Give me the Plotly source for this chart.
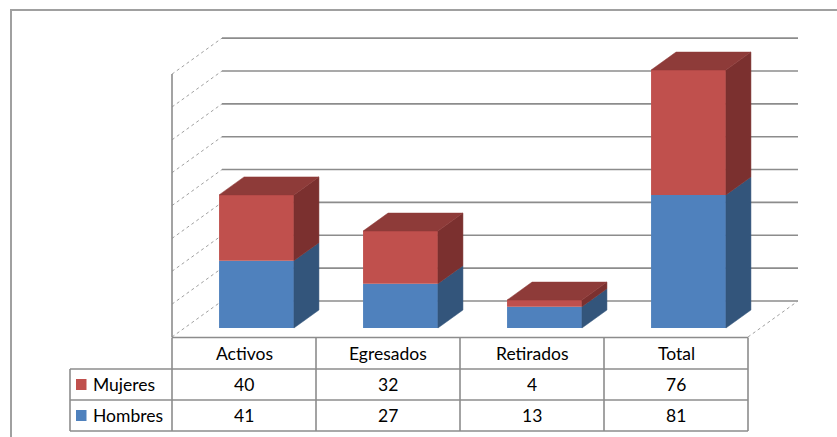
import plotly.graph_objects as go

# ---- data ----
categories = ["Activos", "Egresados", "Retirados", "Total"]
mujeres = [40, 32, 4, 76]
hombres = [41, 27, 13, 81]
series_names = ["Mujeres", "Hombres"]
grid_values = list(range(0, 161, 20))

# ---- styling / geometry ----
W, H = 837, 437
X0_PX = 172          # pixel of category axis start
CAT_PX = 144         # pixels per category
FLOOR_PX = 337       # pixel of front floor edge
S = 1.643            # pixels per value unit
DXc = 50 / CAT_PX    # floor depth in x units
DYv = 36 / S         # floor depth in value units
BAR_W = 0.52
D_FRONT, D_BACK = 0.25, 0.75

RED, RED_TOP, RED_SIDE = "#C0504D", "#8E3B39", "#7B302F"
BLUE, BLUE_SIDE = "#4F81BD", "#33557B"
GRID = "#8c8c8c"
FONT = "Lato"

def px(x):   # pixel -> paper
    return x / W

def py(y):
    return 1 - y / H

fig = go.Figure()

n = len(categories)
xc = [i + 0.5 + D_FRONT * DXc for i in range(n)]
base0 = D_FRONT * DYv

# front faces as bars
fig.add_trace(go.Bar(x=xc, y=hombres, base=[base0] * n, width=BAR_W,
                     marker=dict(color=BLUE, line=dict(width=0)), name=series_names[1],
                     hoverinfo="skip"))
fig.add_trace(go.Bar(x=xc, y=mujeres, base=[base0 + h for h in hombres], width=BAR_W,
                     marker=dict(color=RED, line=dict(width=0)), name=series_names[0],
                     hoverinfo="skip"))

# side and top faces
ddx = (D_BACK - D_FRONT) * DXc
ddy = (D_BACK - D_FRONT) * DYv

def poly(xs, ys, color):
    fig.add_trace(go.Scatter(x=xs + [xs[0]], y=ys + [ys[0]], mode="lines", fill="toself",
                             fillcolor=color, line=dict(color=color, width=0.5),
                             hoverinfo="skip", showlegend=False))

for i in range(n):
    xl = xc[i] - BAR_W / 2
    xr = xc[i] + BAR_W / 2
    b = base0
    h_top = b + hombres[i]
    t = h_top + mujeres[i]
    # hombres side
    poly([xr, xr, xr + ddx, xr + ddx], [b, h_top, h_top + ddy, b + ddy], BLUE_SIDE)
    # mujeres side
    poly([xr, xr, xr + ddx, xr + ddx], [h_top, t, t + ddy, h_top + ddy], RED_SIDE)
    # top
    poly([xl, xr, xr + ddx, xl + ddx], [t, t, t + ddy, t + ddy], RED_TOP)

shapes = []
# back wall gridlines
for v in grid_values:
    shapes.append(dict(type="line", xref="x", yref="y", x0=DXc, x1=n + DXc,
                       y0=v + DYv, y1=v + DYv, line=dict(color=GRID, width=1.6), layer="below"))
    shapes.append(dict(type="line", xref="x", yref="y", x0=0, x1=DXc,
                       y0=v, y1=v + DYv, line=dict(color="#a0a0a0", width=1, dash="dot"),
                       layer="below"))
# left wall front edge
shapes.append(dict(type="line", xref="x", yref="y", x0=0, x1=0, y0=0, y1=grid_values[-1],
                   line=dict(color=GRID, width=1.6), layer="below"))
# floor right edge
shapes.append(dict(type="line", xref="x", yref="y", x0=n, x1=n + DXc, y0=0, y1=DYv,
                   line=dict(color="#a0a0a0", width=1, dash="dot"), layer="below"))

# outer border
shapes.append(dict(type="rect", xref="paper", yref="paper", x0=px(11), x1=px(W + 10),
                   y0=py(H + 10), y1=py(10), line=dict(color="#a0a0a0", width=2)))

# ---- data table ----
TL = GRID
row_y = [337.5, 369, 400, 431]
col_x = [X0_PX + CAT_PX * i for i in range(n + 1)]
left_x = 70
shapes.append(dict(type="line", xref="paper", yref="paper", x0=px(col_x[0]), x1=px(col_x[-1]),
                   y0=py(row_y[0]), y1=py(row_y[0]), line=dict(color=TL, width=1.6)))
for ry in row_y[1:]:
    shapes.append(dict(type="line", xref="paper", yref="paper", x0=px(left_x), x1=px(col_x[-1]),
                       y0=py(ry), y1=py(ry), line=dict(color=TL, width=1.6)))
for cx in col_x:
    shapes.append(dict(type="line", xref="paper", yref="paper", x0=px(cx), x1=px(cx),
                       y0=py(row_y[0]), y1=py(row_y[-1]), line=dict(color=TL, width=1.6)))
shapes.append(dict(type="line", xref="paper", yref="paper", x0=px(left_x), x1=px(left_x),
                   y0=py(row_y[1]), y1=py(row_y[-1]), line=dict(color=TL, width=1.6)))

annotations = []
def txt(x, y, s, anchor="center"):
    annotations.append(dict(x=px(x), y=py(y), xref="paper", yref="paper", text=s,
                            showarrow=False, xanchor=anchor, yanchor="middle",
                            font=dict(family=FONT, size=17.5, color="#000000")))

for i, c in enumerate(categories):
    cx = (col_x[i] + col_x[i + 1]) / 2
    txt(cx, (row_y[0] + row_y[1]) / 2, c)
    txt(cx, (row_y[1] + row_y[2]) / 2, str(mujeres[i]))
    txt(cx, (row_y[2] + row_y[3]) / 2, str(hombres[i]))

row_series = [(series_names[0], RED), (series_names[1], BLUE)]
for k, (name, col) in enumerate(row_series):
    yc = (row_y[k + 1] + row_y[k + 2]) / 2
    shapes.append(dict(type="rect", xref="paper", yref="paper", x0=px(76), x1=px(86.5),
                       y0=py(yc + 5.5), y1=py(yc - 5.5), fillcolor=col, line=dict(width=0)))
    txt(91, yc, name, anchor="left")

fig.update_layout(
    width=W, height=H,
    margin=dict(l=0, r=0, t=0, b=0),
    paper_bgcolor="white", plot_bgcolor="white",
    barmode="overlay", showlegend=False,
    xaxis=dict(range=[-X0_PX / CAT_PX, (W - X0_PX) / CAT_PX], visible=False, fixedrange=True),
    yaxis=dict(range=[-(H - FLOOR_PX) / S, FLOOR_PX / S], visible=False, fixedrange=True),
    shapes=shapes, annotations=annotations,
)

fig.write_html("out.html", config={"displayModeBar": False},
               post_script="document.body.style.margin='0';document.body.style.overflow='hidden';")
